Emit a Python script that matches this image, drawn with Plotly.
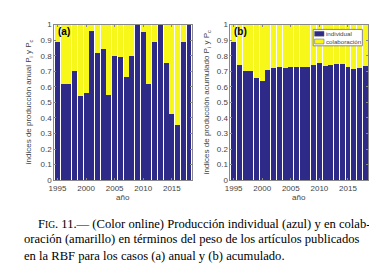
import plotly.graph_objects as go

years = list(range(1995, 2019))
anual_individual = [0.89, 0.62, 0.62, 0.70, 0.54, 0.56, 0.96, 0.82, 0.845, 0.545,
                    0.80, 0.79, 0.66, 0.80, 1.0, 0.955, 0.615, 0.885, 1.0, 0.75,
                    0.425, 0.355, 0.885, 1.0]
acum_individual = [0.89, 0.74, 0.70, 0.70, 0.655, 0.635, 0.71, 0.72, 0.73, 0.72,
                   0.725, 0.73, 0.725, 0.73, 0.74, 0.755, 0.735, 0.74, 0.745, 0.745,
                   0.73, 0.715, 0.72, 0.735]
anual_colab = [round(1 - v, 4) for v in anual_individual]
acum_colab = [round(1 - v, 4) for v in acum_individual]

xticks = [1995, 2000, 2005, 2010, 2015]
yticks = [0, 0.1, 0.2, 0.3, 0.4, 0.5, 0.6, 0.7, 0.8, 0.9, 1]
yticktext = ["0", "0.1", "0.2", "0.3", "0.4", "0.5", "0.6", "0.7", "0.8", "0.9", "1"]
legend_labels = ["individual", "colaboración"]

BLUE = "#2E2A87"
YELLOW = "#F7F81A"
GRAY = "#888888"
TXT = "#444444"

fig = go.Figure()
fig.add_trace(go.Bar(x=years, y=anual_individual, marker=dict(color=BLUE, line=dict(width=0)),
                     name=legend_labels[0], xaxis="x", yaxis="y"))
fig.add_trace(go.Bar(x=years, y=anual_colab, marker=dict(color=YELLOW, line=dict(width=0)),
                     name=legend_labels[1], xaxis="x", yaxis="y"))
fig.add_trace(go.Bar(x=years, y=acum_individual, marker=dict(color=BLUE, line=dict(width=0)),
                     name=legend_labels[0], xaxis="x2", yaxis="y2"))
fig.add_trace(go.Bar(x=years, y=acum_colab, marker=dict(color=YELLOW, line=dict(width=0)),
                     name=legend_labels[1], xaxis="x2", yaxis="y2"))

W, H = 377, 272
def fx(p): return p / W
def fy(p): return 1 - p / H

axis_common = dict(showline=True, linecolor=GRAY, linewidth=1, mirror="allticks",
                   ticks="inside", ticklen=2, tickcolor=GRAY, showgrid=False,
                   zeroline=False, tickfont=dict(family="Liberation Sans, Arial", size=8, color=TXT))

xa = dict(axis_common, range=[1994.45, 2018.55], tickvals=xticks, ticktext=[str(t) for t in xticks])
ya = dict(axis_common, range=[0, 1], tickvals=yticks, ticktext=yticktext)

fig.update_layout(
    width=W, height=H, margin=dict(l=0, r=0, t=0, b=0),
    paper_bgcolor="white", plot_bgcolor="white",
    barmode="stack", bargap=0.14, showlegend=False,
    xaxis=dict(xa, domain=[fx(41), fx(181)], anchor="y"),
    yaxis=dict(ya, domain=[fy(174), fy(13)], anchor="x"),
    xaxis2=dict(xa, domain=[fx(220), fx(360)], anchor="y2"),
    yaxis2=dict(ya, domain=[fy(174), fy(13)], anchor="x2"),
    font=dict(family="Liberation Sans, Arial"),
)

shapes = []
# manual legend (panel b)
shapes.append(dict(type="rect", xref="paper", yref="paper",
                   x0=fx(304), x1=fx(354), y0=fy(35), y1=fy(18),
                   fillcolor="white", line=dict(color=GRAY, width=1)))
for i, col in enumerate([BLUE, YELLOW]):
    yc = 22.5 + 8 * i
    shapes.append(dict(type="rect", xref="paper", yref="paper",
                       x0=fx(305.5), x1=fx(315), y0=fy(yc + 2.5), y1=fy(yc - 2.5),
                       fillcolor=col, line=dict(color="#555555", width=0.5)))

ann = []
for i, lab in enumerate(legend_labels):
    yc = 22.5 + 8 * i
    ann.append(dict(text=lab, x=fx(315.5), y=fy(yc), xref="paper", yref="paper",
                    xanchor="left", yanchor="middle", showarrow=False,
                    font=dict(size=6.2, color=TXT)))
# panel labels
ann.append(dict(text="<b>(a)</b>", x=fx(43), y=fy(20), xref="paper", yref="paper",
                xanchor="left", yanchor="middle", showarrow=False,
                font=dict(size=10, color="black")))
ann.append(dict(text="<b>(b)</b>", x=fx(222), y=fy(20), xref="paper", yref="paper",
                xanchor="left", yanchor="middle", showarrow=False,
                font=dict(size=10, color="black")))
# x titles
for cx in (111, 290):
    ann.append(dict(text="año", x=fx(cx), y=fy(192), xref="paper", yref="paper",
                    xanchor="center", yanchor="middle", showarrow=False,
                    font=dict(size=8, color=TXT)))
# y titles
ann.append(dict(text="índices de producción anual P<sub>i</sub> y P<sub>c</sub>",
                x=fx(15), y=fy(93), xref="paper", yref="paper", textangle=-90,
                xanchor="center", yanchor="middle", showarrow=False,
                font=dict(size=8, color=TXT)))
ann.append(dict(text="índices de producción acumulado P<sub>i</sub> y P<sub>c</sub>",
                x=fx(196), y=fy(93), xref="paper", yref="paper", textangle=-90,
                xanchor="center", yanchor="middle", showarrow=False,
                font=dict(size=8, color=TXT)))
# caption
cap_font = dict(family="Liberation Serif, Times New Roman, serif", size=12.6, color="black")
caption = [
    (22, 219, "F<span style='font-size:9.5px'>IG</span>. 11.— (Color online) Producción individual (azul) y en colab-"),
    (8, 235, "oración (amarillo) en términos del peso de los artículos publicados"),
    (8, 252, "en la RBF para los casos (a) anual y (b) acumulado."),
]
for x0, y0, t in caption:
    ann.append(dict(text=t, x=fx(x0), y=fy(y0), xref="paper", yref="paper",
                    xanchor="left", yanchor="middle", showarrow=False, font=cap_font))
fig.update_layout(annotations=ann, shapes=shapes)

fig.write_html("out.html")
